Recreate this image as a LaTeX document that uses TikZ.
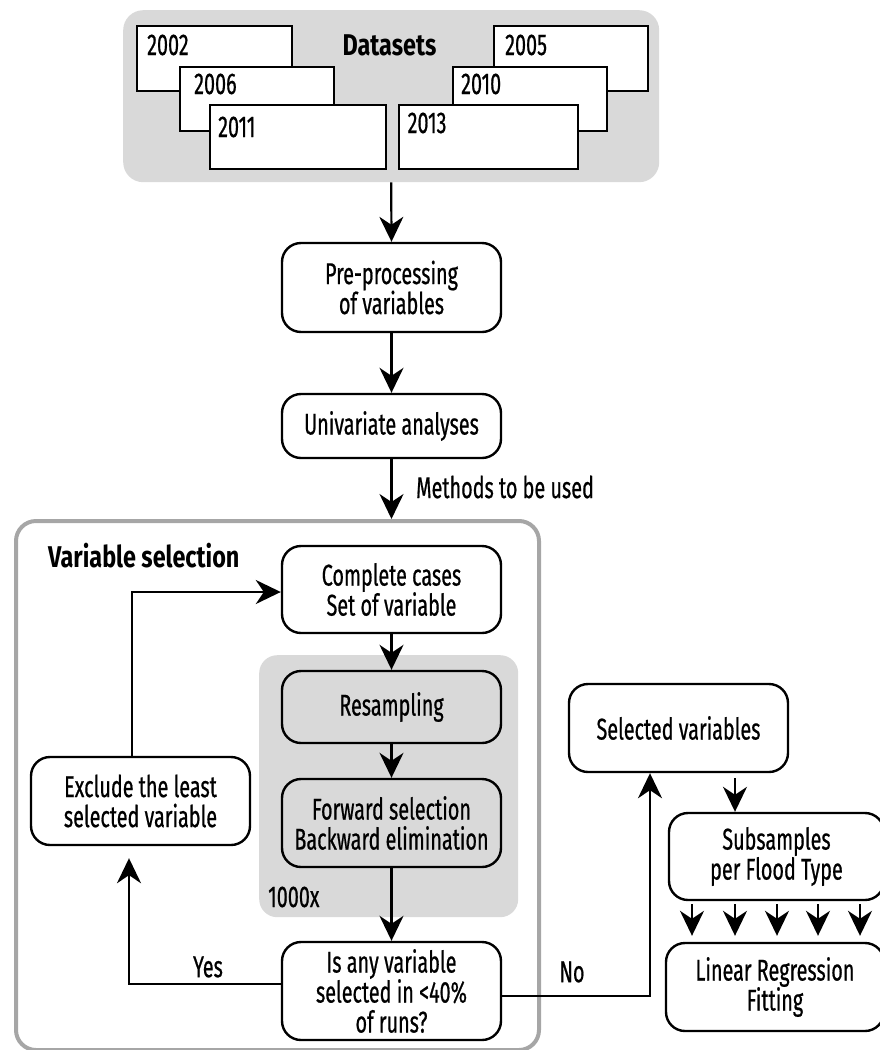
\documentclass[tikz,border=0pt]{standalone}
\usepackage{fontspec}
\setmainfont[FakeStretch=0.66,UprightFeatures={FakeBold=0.6},BoldFeatures={FakeStretch=0.78}]{Fira Sans}
\usetikzlibrary{arrows.meta}
\definecolor{bggray}{RGB}{217,217,217}
\definecolor{framegray}{RGB}{166,166,166}
\begin{document}
\begin{tikzpicture}[x=1pt,y=-1pt,
  font=\fontsize{30}{30}\selectfont,
  box/.style={draw=black, line width=2.4pt, rounded corners=19pt, fill=white, align=center, inner sep=0pt, minimum width=219pt},
  graybox/.style={box, fill=bggray},
  yearbox/.style={draw=black, line width=2.2pt, fill=white, inner sep=0pt, anchor=north west},
  arr/.style={line width=2.2pt, -{Stealth[length=25pt,width=24pt,inset=8pt]}},
  lbl/.style={inner sep=0pt}
]
\useasboundingbox (0,0) rectangle (880,1050);

% Datasets group
\node[fill=bggray, rounded corners=20pt, minimum width=536pt, minimum height=172pt, inner sep=0pt, anchor=north west] (datasets) at (123,10) {};
\node[lbl, anchor=base, font=\fontsize{30}{30}\selectfont\bfseries] (dstitle) at (389.5,55) {Datasets};
\node[yearbox, minimum width=155pt, minimum height=65pt] (b2002) at (136,25) {};
\node[lbl, anchor=base west] (t2002) at (147,55) {2002};
\node[yearbox, minimum width=154pt, minimum height=64pt] (b2006) at (179,66) {};
\node[lbl, anchor=base west] (t2006) at (194,94) {2006};
\node[yearbox, minimum width=176pt, minimum height=64pt] (b2011) at (209,104) {};
\node[lbl, anchor=base west] (t2011) at (218,137) {2011};
\node[yearbox, minimum width=154pt, minimum height=65pt] (b2005) at (493,25) {};
\node[lbl, anchor=base west] (t2005) at (505,55) {2005};
\node[yearbox, minimum width=154pt, minimum height=64pt] (b2010) at (452,66) {};
\node[lbl, anchor=base west] (t2010) at (461,94) {2010};
\node[yearbox, minimum width=179pt, minimum height=64pt] (b2013) at (398,104) {};
\node[lbl, anchor=base west] (t2013) at (407.5,133) {2013};

% Upper flow
\node[box, minimum height=89pt] (pre) at (391.5,287.5) {Pre-processing\\of variables};
\node[box, minimum height=64pt] (uni) at (391.5,426) {Univariate analyses};

% Variable selection frame
\node[draw=framegray, line width=4pt, rounded corners=20pt, minimum width=523pt, minimum height=529pt, inner sep=0pt, anchor=north west] (varsel) at (14,519) {};
\node[lbl, anchor=base west, font=\fontsize{30}{30}\selectfont\bfseries] (vstitle) at (48,567) {Variable selection};
\node[fill=bggray, rounded corners=18pt, minimum width=259pt, minimum height=262pt, inner sep=0pt, anchor=north west] (loopbg) at (259,655) {};
\node[lbl, anchor=base west] (times) at (268,907) {1000x};

\node[box, minimum height=87pt] (complete) at (391.5,589.5) {Complete cases\\Set of variable};
\node[graybox, minimum height=72pt] (resamp) at (391.5,707) {Resampling};
\node[graybox, minimum height=88pt] (fwd) at (391.5,823) {Forward selection\\Backward elimination};
\node[box, minimum height=98pt] (isany) at (391.5,991) {Is any variable\\selected in <40\%\\of runs?};
\node[box, minimum height=88pt] (exclude) at (140.5,801) {Exclude the least\\selected variable};

% Right side
\node[box, minimum height=88pt] (selected) at (678.5,728) {Selected variables};
\node[box, minimum width=215pt, minimum height=87pt] (subs) at (776.5,856.5) {Subsamples\\per Flood Type};
\node[box, minimum width=218pt, minimum height=88pt] (linear) at (775,987) {Linear Regression\\Fitting};

% Labels
\node[lbl, anchor=west] (methods) at (416,487) {Methods to be used};
\node[lbl] (yes) at (208,967) {Yes};
\node[lbl] (no) at (572,972) {No};

% Connectors
\draw[arr] (datasets.south) -- (pre.north);
\draw[arr] (pre.south) -- (uni.north);
\draw[arr] (uni.south) -- (uni.south |- varsel.north);
\draw[arr] (complete.south) -- (resamp.north);
\draw[arr] (resamp.south) -- (fwd.north);
\draw[arr] (fwd.south) -- (isany.north);
\draw[arr, shorten >=12pt] ([yshift=7pt]isany.west) -| ([xshift=-11.5pt]exclude.south);
\draw[arr] ([xshift=-8.5pt]exclude.north) |- ([yshift=-2.5pt]complete.west);
\draw[arr] ([yshift=-5pt]isany.east) -| ([xshift=-28.5pt]selected.south);
\draw[arr, shorten <=5pt] ([xshift=56.5pt]selected.south) -- ([xshift=56.5pt]selected.south |- subs.north);
\foreach \px in {692,735,777,818,860}{
  \draw[arr, shorten <=3pt, shorten >=6pt] (subs.south -| \px,0) -- (linear.north -| \px,0);
}
\end{tikzpicture}
\end{document}
